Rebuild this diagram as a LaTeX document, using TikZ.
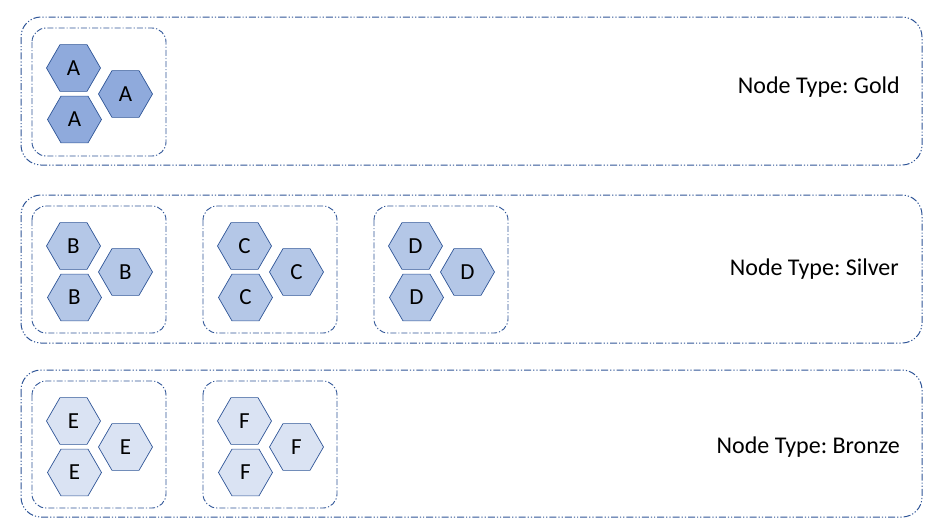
\documentclass[tikz,border=0pt]{standalone}
\usepackage{fontspec}
\setmainfont{Carlito}
\frenchspacing
\usetikzlibrary{shapes.geometric}
\definecolor{lineblue}{HTML}{2F5597}
\definecolor{goldfill}{HTML}{8FAADC}
\definecolor{silverfill}{HTML}{B4C7E7}
\definecolor{bronzefill}{HTML}{DAE3F3}
\begin{document}
\begin{tikzpicture}[x=1pt,y=-1pt,
  rowbox/.style={draw=lineblue,line width=1pt,rounded corners=20pt,
    dash pattern=on 7pt off 2pt on 1.2pt off 2pt on 1.2pt off 2pt},
  groupbox/.style={draw=lineblue,line width=0.9pt,rounded corners=14pt,
    dash pattern=on 6pt off 2pt on 1.2pt off 2pt},
  hex/.style={regular polygon,regular polygon sides=6,minimum size=54pt,
    inner sep=0pt,outer sep=0pt,draw=lineblue,line width=0.7pt,
    font=\fontsize{23}{23}\selectfont},
  hexgold/.style={hex,fill=goldfill},
  hexsilver/.style={hex,fill=silverfill},
  hexbronze/.style={hex,fill=bronzefill},
  typelabel/.style={anchor=east,inner sep=0pt,font=\fontsize{24}{24}\selectfont}]
\useasboundingbox (0,0) rectangle (938,531);
% rows
\draw[rowbox] (21,17) rectangle (922,165);
\draw[rowbox] (21,195) rectangle (922,343);
\draw[rowbox] (21,370) rectangle (922,517);
% groups
\draw[groupbox] (32,28) rectangle (166,156);
\draw[groupbox] (32,206) rectangle (166,333);
\draw[groupbox] (203,206) rectangle (337,333);
\draw[groupbox] (374,206) rectangle (508,333);
\draw[groupbox] (32,381) rectangle (166,508);
\draw[groupbox] (203,381) rectangle (337,508);
% gold
\node[hexgold] (a1) at (73.5,68) {A};
\node[hexgold] (a2) at (74.5,119.5) {A};
\node[hexgold] (a3) at (125.5,94) {A};
% silver
\node[hexsilver] (b1) at (73.5,246) {B};
\node[hexsilver] (b2) at (74.5,297.5) {B};
\node[hexsilver] (b3) at (125.5,272) {B};
\node[hexsilver] (c1) at (244.5,246) {C};
\node[hexsilver] (c2) at (245.5,297.5) {C};
\node[hexsilver] (c3) at (296.5,272) {C};
\node[hexsilver] (d1) at (415.5,246) {D};
\node[hexsilver] (d2) at (416.5,297.5) {D};
\node[hexsilver] (d3) at (467.5,272) {D};
% bronze
\node[hexbronze] (e1) at (73.5,421) {E};
\node[hexbronze] (e2) at (74.5,472.5) {E};
\node[hexbronze] (e3) at (125.5,447) {E};
\node[hexbronze] (f1) at (244.5,421) {F};
\node[hexbronze] (f2) at (245.5,472.5) {F};
\node[hexbronze] (f3) at (296.5,447) {F};
% labels
\node[typelabel] (gold) at (900,87) {Node Type: Gold};
\node[typelabel] (silver) at (899,269) {Node Type: Silver};
\node[typelabel] (bronze) at (900,447) {Node Type: Bronze};
\end{tikzpicture}
\end{document}
